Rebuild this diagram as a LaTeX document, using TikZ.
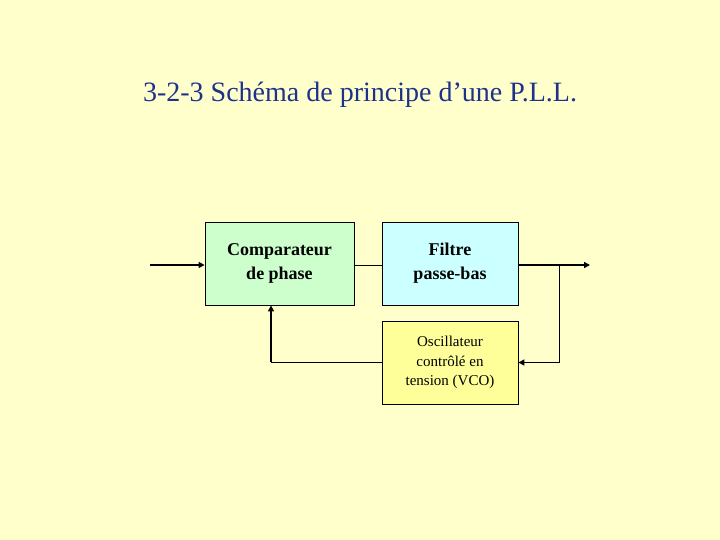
\documentclass[tikz,border=0pt]{standalone}
\usepackage{fontspec}
\setmainfont{Liberation Serif}
\usetikzlibrary{arrows.meta}
\definecolor{bg}{RGB}{255,255,204}
\definecolor{gfill}{RGB}{204,255,204}
\definecolor{cfill}{RGB}{204,255,255}
\definecolor{yfill}{RGB}{255,255,153}
\definecolor{titleblue}{RGB}{30,50,140}
\tikzset{
  blk/.style={draw=black, line width=0.8pt, inner sep=0pt, align=center},
  wire/.style={line width=1.6pt, draw=black},
  thinwire/.style={line width=0.9pt, draw=black},
  arr/.style={wire, -{Triangle[length=6pt,width=6pt]}},
}
\begin{document}
\begin{tikzpicture}[x=1pt,y=-1pt]
\fill[bg] (0,0) rectangle (720,540);
\useasboundingbox (0,0) rectangle (720,540);
\node[text=titleblue, font=\fontsize{28}{32}\selectfont] (title) at (360,95) {3-2-3 Schéma de principe d’une P.L.L.};
\node[blk, fill=gfill, minimum width=149pt, minimum height=83pt, font=\bfseries\fontsize{18}{24}\selectfont] (comp) at (279.5,263.5) {Comparateur\\de phase};
\node[blk, fill=cfill, minimum width=136pt, minimum height=83pt, font=\bfseries\fontsize{18}{24}\selectfont] (filt) at (450,263.5) {Filtre\\passe-bas};
\node[blk, fill=yfill, minimum width=136pt, minimum height=83pt, font=\fontsize{15}{19.5}\selectfont] (vco) at (450,362.5) {Oscillateur\\contrôlé en\\tension (VCO)};
\coordinate (in) at (150,265);
\coordinate (out) at (590,265);
\coordinate (br) at (559,265);
\coordinate (br2) at (559,362.5);
\coordinate (fb) at (271,362.5);
\draw[arr] (in) -- (comp.west |- in);
\draw[thinwire] (comp.east |- in) -- (filt.west |- in);
\draw[arr] (filt.east |- in) -- (out);
\draw[thinwire] (br) -- (br2);
\draw[arr] (br2) -- (vco.east);
\draw[thinwire] (vco.west) -- (fb);
\draw[arr] ([yshift=0.5pt]fb) -- ([xshift=-8.5pt]comp.south);
\end{tikzpicture}
\end{document}
